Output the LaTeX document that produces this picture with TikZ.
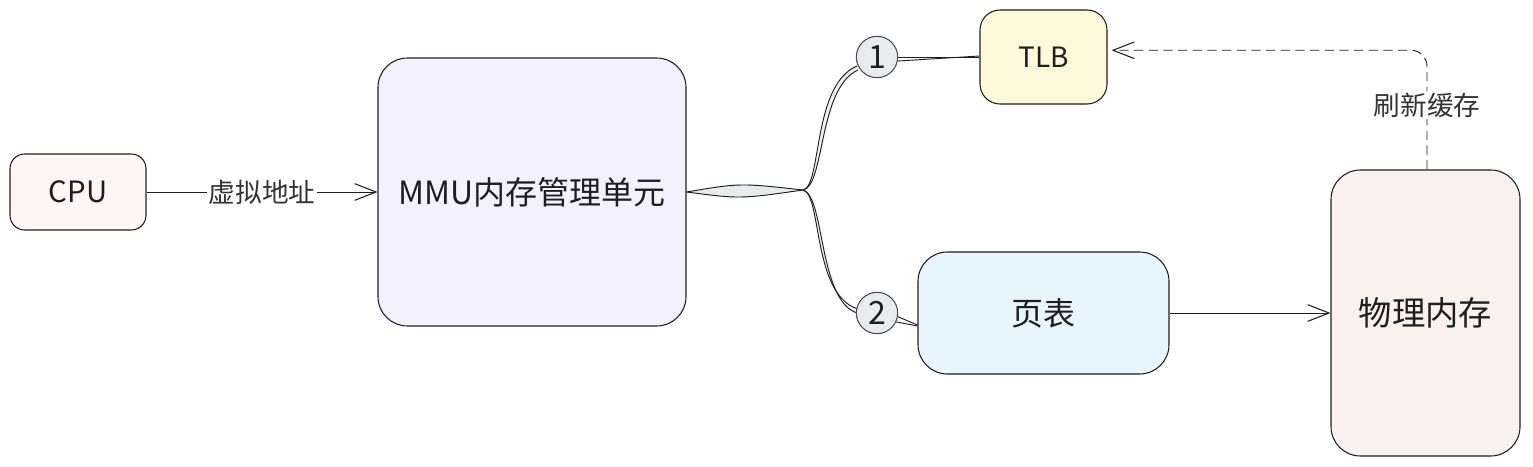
\documentclass[tikz,border=0pt]{standalone}
\usepackage{fontspec}
\setmainfont{Noto Sans CJK SC}
\usetikzlibrary{arrows.meta,calc}
\definecolor{ink}{HTML}{1E1E1E}
\definecolor{labelgray}{HTML}{333333}
\definecolor{cpufill}{HTML}{FFF5F5}
\definecolor{mmufill}{HTML}{F3F0FF}
\definecolor{tlbfill}{HTML}{FFF9DB}
\definecolor{ptfill}{HTML}{E7F5FF}
\definecolor{memfill}{HTML}{F8F1EE}
\definecolor{numfill}{HTML}{E9ECEF}
\tikzset{
  box/.style={draw=ink, line width=0.8pt, text=ink, inner sep=0pt},
  numcircle/.style={circle, draw=ink!80, line width=0.8pt, fill=numfill, minimum size=31pt, inner sep=0pt, text=ink, font=\fontsize{24}{26}\selectfont},
  conn/.style={draw=ink, line width=0.7pt},
  tipopen/.style={-{Straight Barb[length=16pt,width=12.5pt,line width=0.8pt]}},
  edgelabel/.style={fill=white, inner sep=1pt, text=labelgray, font=\fontsize{20}{24}\selectfont},
}
\begin{document}
\begin{tikzpicture}[x=0.75pt,y=-0.75pt]
\useasboundingbox (0,0) rectangle (1533,467);
% nodes
\node[box, fill=cpufill, rounded corners=11pt, minimum width=102pt, minimum height=57pt, font=\fontsize{22}{24}\selectfont] (cpu) at (78,192) {CPU};
\node[box, fill=mmufill, rounded corners=22pt, minimum width=231pt, minimum height=201pt, font=\fontsize{24}{27}\selectfont] (mmu) at (532,192) {MMU内存管理单元};
\node[box, fill=tlbfill, rounded corners=15pt, minimum width=95.25pt, minimum height=70.5pt, font=\fontsize{21}{24}\selectfont] (tlb) at (1043.5,57) {TLB};
\node[box, fill=ptfill, rounded corners=22pt, minimum width=188.25pt, minimum height=91.5pt, font=\fontsize{24}{28}\selectfont] (pt) at (1043.5,313) {页表};
\node[box, fill=memfill, rounded corners=22pt, minimum width=141.75pt, minimum height=214.5pt, font=\fontsize{25}{30}\selectfont] (mem) at (1425.5,313) {物理内存};
\coordinate (br) at (803,190);
% branch connector (sketchy spindle)
\fill[numfill] (mmu.east) .. controls (740,182) .. (br) .. controls (740,200) .. (mmu.east);
\fill[numfill!70] (br) .. controls (822,186) and (812,85) .. (857,66) -- (858,70) .. controls (820,88) and (826,186) .. (br);
\fill[numfill!70] (br) .. controls (822,194) and (812,295) .. (858,309) -- (857,313) .. controls (826,300) and (820,196) .. (br);
\draw[conn] (mmu.east) .. controls (740,183) .. (br);
\draw[conn] (mmu.east) .. controls (740,199) .. (br);
\draw[conn] (br) .. controls (822,186) and (812,85) .. (857,66);
\draw[conn] (br) .. controls (825,186) and (818,88) .. (858,70);
\draw[conn] (br) .. controls (822,194) and (812,295) .. (858,309);
\draw[conn] (br) .. controls (825,196) and (818,300) .. (857,313);
% numbered circles
\node[numcircle] (c1) at (877,57) {1};
\node[numcircle] (c2) at (877,313) {2};
\draw[conn] (c1.east) -- (tlb.west);
\draw[conn] ($(c1.east)+(0,4)$) -- ($(tlb.west)+(0,-1)$);
\draw[conn] (c2.-10) -- ($(pt.west)+(0,12)$);
\draw[conn] (c2.-25) -- ($(pt.west)+(0,13)$);
% arrows
\draw[conn, tipopen] (cpu.east) -- node[edgelabel] {虚拟地址} (mmu.west);
\draw[conn, tipopen] (pt.east) -- (mem.west);
\draw[conn, tipopen, dash pattern=on 7pt off 4pt, rounded corners=12pt] ($(mem.north)+(1.5,0)$) |- node[pos=0.27, edgelabel] {刷新缓存} ($(tlb.6)+(4,0)$);
\end{tikzpicture}
\end{document}
